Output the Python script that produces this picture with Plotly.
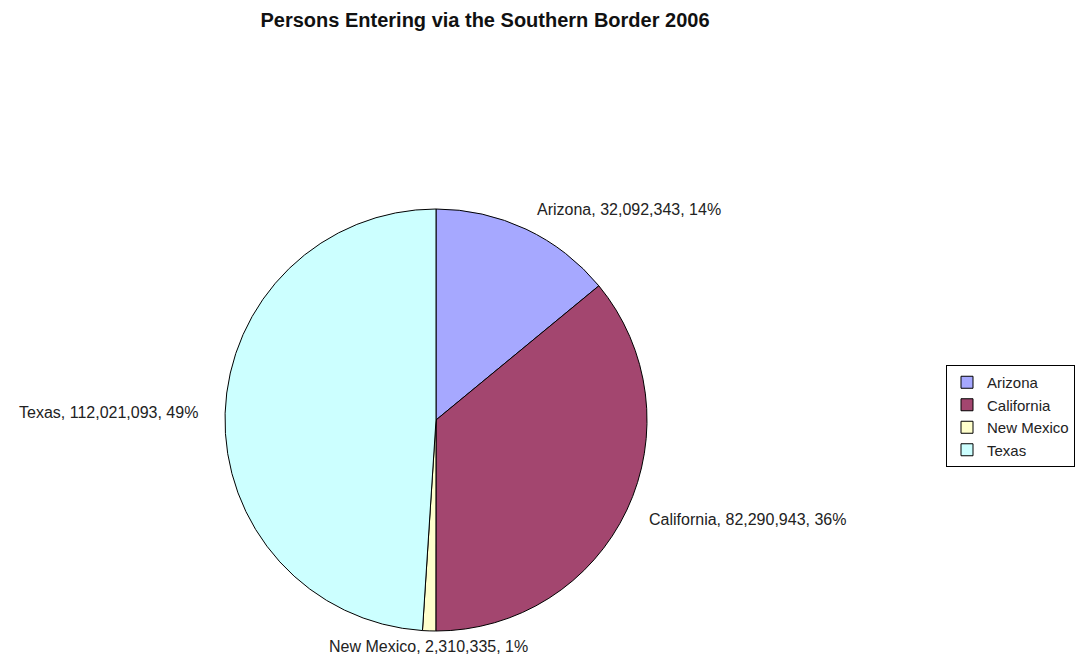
import math
import plotly.graph_objects as go

states = ["Arizona", "California", "New Mexico", "Texas"]
persons = [32092343, 82290943, 2310335, 112021093]
colors = ["#a6a8ff", "#a3466f", "#ffffcc", "#ccffff"]
title_text = "Persons Entering via the Southern Border 2006"

# The page body has an 8px margin, so the figure is drawn 8px smaller and all
# layout positions below are given in page pixels minus that offset.
OFF = 8
W, H = 1085 - OFF, 659 - OFF
cx, cy, r = 436 - OFF, 420 - OFF, 211
FONT = "Liberation Sans, Arial, sans-serif"

fig = go.Figure(go.Pie(
    labels=states,
    values=persons,
    sort=False,
    direction="clockwise",
    rotation=0,
    marker=dict(colors=colors, line=dict(color="black", width=1)),
    textinfo="none",
    hoverinfo="label+value+percent",
    domain=dict(x=[(cx - r) / W, (cx + r) / W], y=[(H - cy - r) / H, (H - cy + r) / H]),
    automargin=False,
))

# Data labels placed just outside each slice at its mid angle (computed from the values)
total = sum(persons)
cum = 0
annotations = []
for name, v in zip(states, persons):
    mid = (cum + v / 2) / total * 2 * math.pi
    cum += v
    s, c = math.sin(mid), math.cos(mid)
    if s > 0.3:
        xa, rr = "left", r + 22
    elif s < -0.3:
        xa, rr = "right", r + 25
    else:
        xa, rr = "center", r + 16
    px = cx + rr * s
    py = cy - rr * c
    pct = round(v / total * 100)
    annotations.append(dict(
        x=px / W, y=1 - py / H, xref="paper", yref="paper",
        text=f"{name}, {v:,}, {pct}%", showarrow=False,
        xanchor=xa, yanchor="middle",
        font=dict(family=FONT, size=16, color="#222"),
    ))

fig.update_layout(
    width=W, height=H,
    margin=dict(l=0, r=0, t=0, b=0),
    paper_bgcolor="white",
    plot_bgcolor="white",
    title=dict(text="<b>" + title_text + "</b>", x=(485 - OFF) / W, xanchor="center",
               y=1 - 5 / H, yanchor="top", pad=dict(t=0, b=0),
               font=dict(family=FONT, size=20, color="#111")),
    legend=dict(x=(946 - OFF) / W, xanchor="left", y=1 - (365 - OFF) / H, yanchor="top",
                bordercolor="black", borderwidth=1, bgcolor="white",
                font=dict(family=FONT, size=15, color="#222"),
                itemwidth=30),
    annotations=annotations,
    showlegend=True,
)

fig.write_html("out.html")
